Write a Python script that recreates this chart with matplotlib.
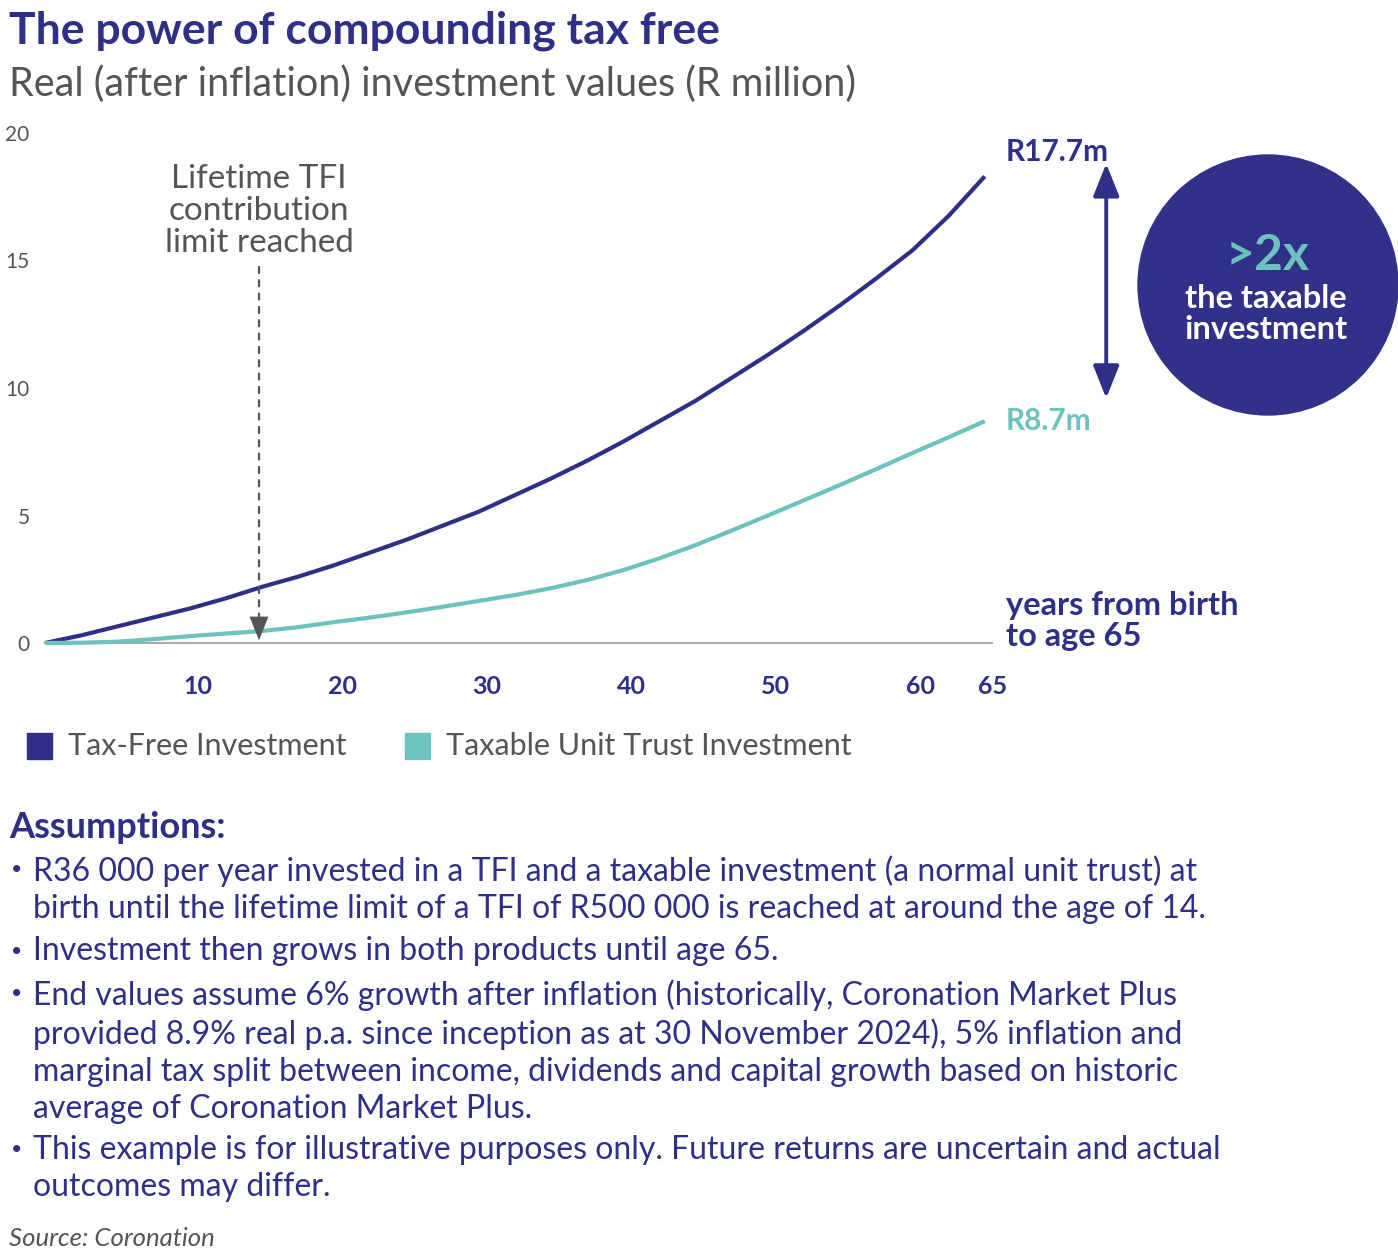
import numpy as np
import matplotlib.pyplot as plt
import matplotlib
from matplotlib.patches import Ellipse, Rectangle
import matplotlib.transforms as mtransforms

matplotlib.rcParams['font.family'] = ['Lato', 'DejaVu Sans']

# data (R million, real)
years = [0, 2.5, 5, 7.5, 10, 12.5, 15, 17.5, 20, 22.5, 25, 27.5, 30, 32.5, 35,
         37.5, 40, 42.5, 45, 47.5, 50, 52.5, 55, 57.5, 60, 62.5, 65]
tax_free = [0, 0.3, 0.65, 1.0, 1.35, 1.75, 2.2, 2.6, 3.05, 3.55, 4.05, 4.6, 5.15, 5.8, 6.45,
            7.15, 7.9, 8.7, 9.5, 10.4, 11.3, 12.25, 13.25, 14.3, 15.4, 16.75, 18.3]
taxable = [0, 0.01, 0.05, 0.15, 0.27, 0.37, 0.47, 0.62, 0.82, 1.0, 1.2, 1.42, 1.65, 1.88, 2.15,
           2.47, 2.86, 3.32, 3.84, 4.41, 5.0, 5.6, 6.2, 6.82, 7.45, 8.07, 8.7]
x_ticks = [10, 20, 30, 40, 50, 60, 65]
y_ticks = [0, 5, 10, 15, 20]
limit_age = 14.8
labels = ['Tax-Free Investment', 'Taxable Unit Trust Investment']
end_labels = ['R17.7m', 'R8.7m']

INDIGO = '#2e2f87'
TEAL = '#6cc3be'
GREY = '#555555'

W, H = 1398, 1257
fig = plt.figure(figsize=(W / 100, H / 100), dpi=100)

def fx(px):
    return px / W

def fy(py):
    return 1 - py / H

ax = fig.add_axes([fx(45), fy(643), fx(992) - fx(45), fy(133) - fy(643)])
ax.plot(years, tax_free, color=INDIGO, lw=3, solid_capstyle='butt', clip_on=False, zorder=3)
ax.plot(years, taxable, color=TEAL, lw=3, solid_capstyle='butt', clip_on=False, zorder=3)
ax.set_xlim(0, 65.5)
ax.set_ylim(0, 20)
for s in ['top', 'right', 'left']:
    ax.spines[s].set_visible(False)
ax.spines['bottom'].set_color('#aaaaaa')
ax.spines['bottom'].set_linewidth(1.5)

ax.set_yticks(y_ticks)
ax.set_yticklabels([str(v) for v in y_ticks], fontsize=15, color=GREY)
ax.tick_params(axis='y', length=0, pad=11)
ax.set_xticks(x_ticks)
ax.set_xticklabels([str(v) for v in x_ticks], fontsize=18, color=INDIGO, fontweight='bold')
ax.tick_params(axis='x', length=0, pad=23)
off = mtransforms.ScaledTranslation(8 / 100, 0, fig.dpi_scale_trans)
for lab in ax.get_xticklabels():
    lab.set_transform(lab.get_transform() + off)

# limit reached marker
ax.plot([limit_age, limit_age], [14.8, 0.9], color=GREY, lw=1.6, ls=(0, (3.5, 2.5)), zorder=4)
ax.annotate('', xy=(limit_age, 0), xytext=(limit_age, 0.95),
            arrowprops=dict(arrowstyle='-|>,head_length=1.2,head_width=0.48', color=GREY,
                            lw=0.1, mutation_scale=14), zorder=5)
ax.text(limit_age, 15.1, 'Lifetime TFI\ncontribution\nlimit reached', ha='center', va='bottom',
        fontsize=24, color=GREY, linespacing=1.09)

# end values
ax.annotate('', xy=(73.4, 18.8), xytext=(73.4, 9.6), annotation_clip=False,
            arrowprops=dict(arrowstyle='<|-|>,head_length=1.0,head_width=0.4', color=INDIGO,
                            lw=2.8, mutation_scale=20, shrinkA=0, shrinkB=0))
fig.text(fx(1006), fy(152), end_labels[0], fontsize=21.5, fontweight='bold', color=INDIGO, va='center')
fig.text(fx(1006), fy(421), end_labels[1], fontsize=21.5, fontweight='bold', color=TEAL, va='center')
fig.text(fx(1006), fy(621), 'years from birth\nto age 65', fontsize=23.5, fontweight='bold',
         color=INDIGO, va='center', linespacing=1.1)

# circle
fig.add_artist(Ellipse((fx(1268), fy(285)), 260 / W, 260 / H, transform=fig.transFigure,
                       color='#313189', zorder=1))
fig.text(fx(1268), fy(255), '>2x', fontsize=36, fontweight='bold', color=TEAL, ha='center', va='center')
fig.text(fx(1266), fy(314), 'the taxable\ninvestment', fontsize=23.5, fontweight='bold', color='white',
         ha='center', va='center', linespacing=1.08)

# titles
fig.text(fx(9), fy(31), 'The power of compounding tax free', fontsize=32, fontweight='bold',
         color=INDIGO, va='center')
fig.text(fx(9), fy(84), 'Real (after inflation) investment values (R million)', fontsize=28.5,
         color=GREY, va='center')

# legend
for i, (lab, c, x0) in enumerate(zip(labels, [INDIGO, TEAL], [27, 405])):
    fig.add_artist(Rectangle((fx(x0), fy(759)), 25 / W, 26 / H, transform=fig.transFigure, color=c))
    fig.text(fx(x0 + 41), fy(746), lab, fontsize=22, color=GREY, va='center')

# assumptions
fig.text(fx(9), fy(827), 'Assumptions:', fontsize=26, fontweight='bold', color=INDIGO, va='center')
bullets = [
    (870, 'R36 000 per year invested in a TFI and a taxable investment (a normal unit trust) at\n'
          'birth until the lifetime limit of a TFI of R500 000 is reached at around the age of 14.'),
    (951, 'Investment then grows in both products until age 65.'),
    (994, 'End values assume 6% growth after inflation (historically, Coronation Market Plus\n'
          'provided 8.9% real p.a. since inception as at 30 November 2024), 5% inflation and\n'
          'marginal tax split between income, dividends and capital growth based on historic\n'
          'average of Coronation Market Plus.'),
    (1150, 'This example is for illustrative purposes only. Future returns are uncertain and actual\n'
           'outcomes may differ.'),
]
for y0, txt in bullets:
    fig.text(fx(11), fy(y0), '\u2022', fontsize=14, color=INDIGO, va='center')
    fig.text(fx(33), fy(y0 - 15), txt, fontsize=23, color=INDIGO, va='top', linespacing=1.3)

fig.text(fx(9), fy(1238), 'Source: Coronation', fontsize=18.5, style='italic', color=GREY, va='center')

plt.savefig('out.png', dpi=100)
